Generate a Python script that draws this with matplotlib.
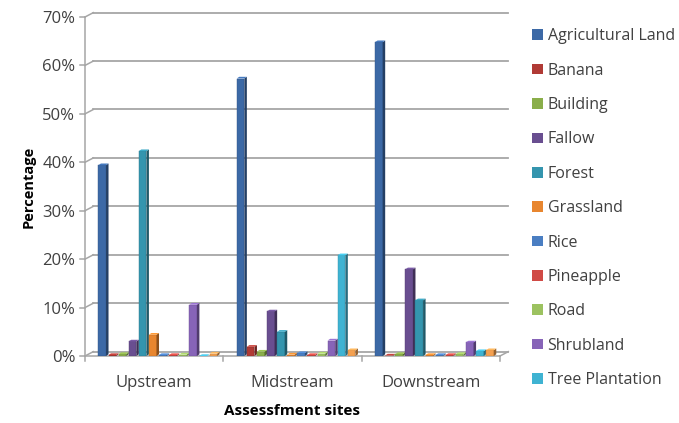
import matplotlib
matplotlib.use("Agg")
import matplotlib.pyplot as plt
from matplotlib.patches import Patch
from matplotlib.colors import to_rgb
import numpy as np

plt.rcParams['font.family'] = ['Open Sans', 'DejaVu Sans']

sites = ["Upstream", "Midstream", "Downstream"]
series_names = ["Agricultural Land", "Banana", "Building", "Fallow", "Forest",
                "Grassland", "Rice", "Pineapple", "Road", "Shrubland",
                "Tree Plantation", "Other"]
agricultural_land = [39.4, 57.3, 64.8]
banana = [0.2, 1.9, 0.1]
building = [0.4, 0.9, 0.4]
fallow = [3.0, 9.2, 17.9]
forest = [42.3, 5.0, 11.5]
grassland = [4.4, 0.3, 0.2]
rice = [0.2, 0.6, 0.2]
pineapple = [0.2, 0.2, 0.2]
road = [0.3, 0.5, 0.4]
shrubland = [10.6, 3.2, 2.8]
tree_plantation = [0.0, 20.8, 1.0]
other = [0.5, 1.2, 1.2]
values = [agricultural_land, banana, building, fallow, forest, grassland,
          rice, pineapple, road, shrubland, tree_plantation, other]
yticks = [0, 10, 20, 30, 40, 50, 60, 70]
ytick_labels = ["0%", "10%", "20%", "30%", "40%", "50%", "60%", "70%"]

colors = ["#3C69A6", "#B03A35", "#8AAE4A", "#694E90", "#3495AE", "#E8862F",
          "#4A7EC2", "#D04A45", "#9CC260", "#8764B8", "#3FB3D2", "#F4A050"]

fig = plt.figure(figsize=(6.79, 4.23), dpi=100)
ax = fig.add_axes([85/679, 1-356/423, 415/679, 339/423])
ax.set_xlim(-0.5, 2.5)
ax.set_ylim(0, 70)
for s in ax.spines.values():
    s.set_visible(False)

gray = "#A6A6A6"
dx, dy = 0.06, 0.9
# back gridlines with depth
for yv in yticks:
    ax.plot([-0.5 + dx, 2.5 + dx], [yv + dy, yv + dy], color=gray, lw=1.3,
            clip_on=False, zorder=1)
    ax.plot([-0.5, -0.5 + dx], [yv, yv + dy], color=gray, lw=1.1,
            clip_on=False, zorder=1)
    ax.plot([-0.5 - 0.035, -0.5], [yv, yv], color=gray, lw=1.1,
            clip_on=False, zorder=1)
ax.plot([-0.5, -0.5], [0, 70], color=gray, lw=1.1, clip_on=False, zorder=1)
ax.plot([-0.5, 2.5], [0, 0], color=gray, lw=1.1, clip_on=False, zorder=1)
ax.plot([2.5, 2.5 + dx], [0, dy], color=gray, lw=1.1, clip_on=False, zorder=1)
for xb in [-0.5, 0.5, 1.5, 2.5]:
    ax.plot([xb, xb], [0, -1.0], color=gray, lw=1.1, clip_on=False, zorder=1)

n = len(values)
w = 0.073
x = np.arange(len(sites))
side = 0.018
sdy = 0.35
for i, (vals, c) in enumerate(zip(values, colors)):
    xs = x - n * w / 2 + i * w + 0.035
    fw = w - side
    rgb = np.array(to_rgb(c))
    dark = tuple(rgb * 0.6)
    light = tuple(np.minimum(rgb * 1.15, 1))
    ax.bar(xs, vals, width=fw, align='edge', color=c, zorder=3,
           edgecolor=tuple(rgb * 0.8), linewidth=0.3)
    for xx, v in zip(xs, vals):
        ax.fill([xx + fw, xx + fw + side, xx + fw + side, xx + fw],
                [0, sdy, v + sdy, v], color=dark, zorder=3, lw=0)
        ax.fill([xx, xx + fw, xx + fw + side, xx + side],
                [v, v, v + sdy, v + sdy], color=light, zorder=3, lw=0)

ax.set_yticks(yticks)
ax.set_yticklabels(ytick_labels)
ax.set_xticks(x)
ax.set_xticklabels(sites)
ax.tick_params(axis='both', length=0, labelsize=12, colors="#404040")
ax.tick_params(axis='y', pad=7)
ax.tick_params(axis='x', pad=14)
ax.set_xlabel("Assessfment sites", fontsize=11, fontweight='bold', labelpad=9)
ax.set_ylabel("Percentage", fontsize=10.5, fontweight='bold', labelpad=5)

handles = [Patch(facecolor=c) for c in colors[:11]]
leg = fig.legend(handles, series_names[:11], loc='upper left',
                 bbox_to_anchor=(526/679, 1 - 22/423), frameon=False,
                 fontsize=11.5, handlelength=0.65, handleheight=0.65,
                 handletextpad=0.3, labelspacing=1.15, borderaxespad=0)
for t in leg.get_texts():
    t.set_color("#404040")

fig.savefig("out.png", dpi=100)
